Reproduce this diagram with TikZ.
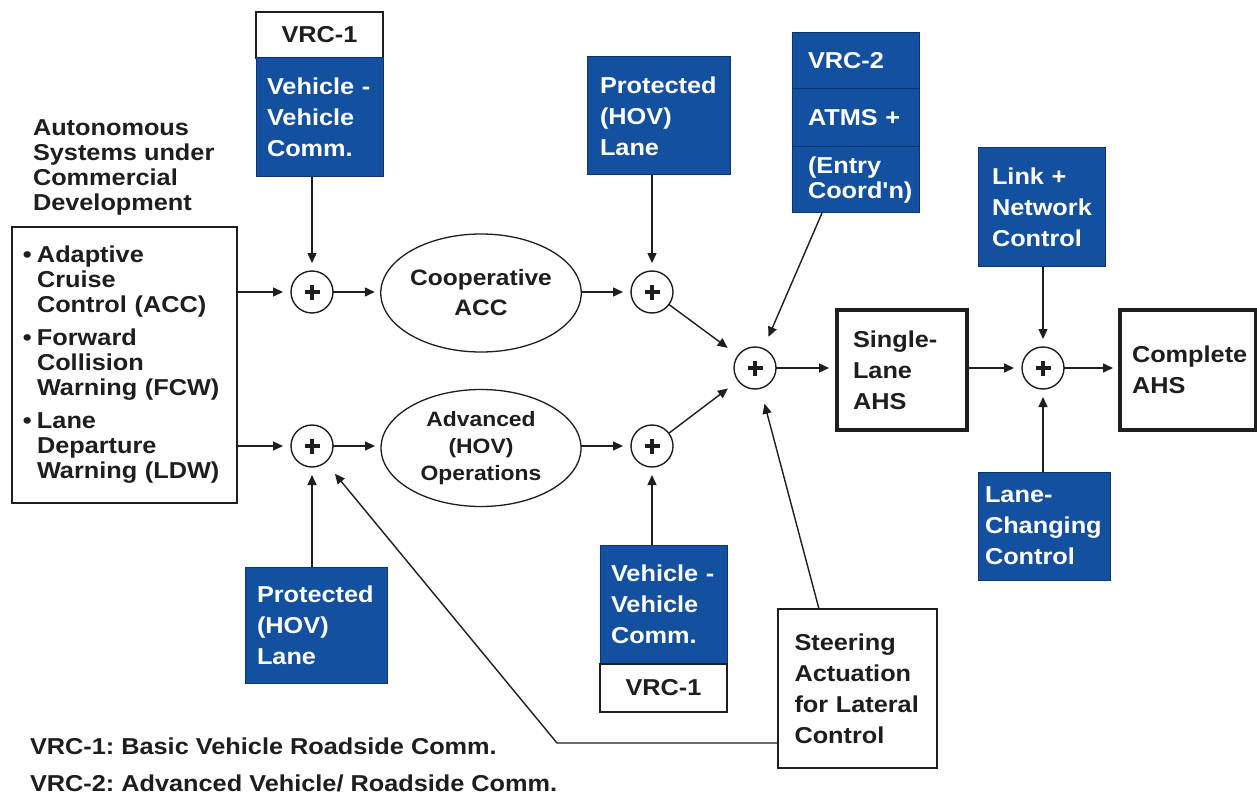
\documentclass[tikz,border=0pt]{standalone}
\usepackage{fontspec}
\newfontfamily\lb[FakeStretch=1.1]{Liberation Sans}
\usetikzlibrary{arrows.meta,shapes.geometric}
\definecolor{boxblue}{RGB}{20,80,160}
\definecolor{boxedge}{RGB}{14,52,112}
\definecolor{ink}{RGB}{30,30,30}
\frenchspacing
\hyphenpenalty=10000
\exhyphenpenalty=10000
\begin{document}
\begin{tikzpicture}[x=1pt,y=-1pt,
  every node/.style={inner sep=0pt, outer sep=0pt},
  tx/.style={font=\lb\bfseries\fontsize{23}{31}\selectfont, text=ink},
  txs/.style={font=\lb\bfseries\fontsize{23}{25}\selectfont},
  bbox/.style={rectangle, draw=boxedge, line width=1pt, fill=boxblue, text=white, align=left, font=\lb\bfseries\fontsize{23}{31}\selectfont},
  wbox/.style={rectangle, draw=ink, line width=1.3pt, fill=white, text=ink, align=left, font=\lb\bfseries\fontsize{23}{31}\selectfont},
  tbox/.style={wbox, line width=3.5pt},
  oval/.style={ellipse, draw=ink, line width=1.3pt, align=center, text=ink},
  sum/.style={circle, draw=ink, line width=1.4pt, minimum size=42pt,
    path picture={\draw[line width=3.2pt,ink]
      ([xshift=-7.5pt]path picture bounding box.center) -- ([xshift=7.5pt]path picture bounding box.center)
      ([yshift=-7.5pt]path picture bounding box.center) -- ([yshift=7.5pt]path picture bounding box.center);}},
  arr/.style={-{Triangle[length=10pt,width=9pt]}, line width=1.4pt, draw=ink, shorten >=8pt},
  darr/.style={arr, shorten >=13pt}
]
\useasboundingbox (0,0) rectangle (1257,794);
\fill[white] (0,0) rectangle (1257,794);

% left text and box
\node[tx, txs, text=ink, align=left, anchor=north west] (auto) at (33,120)
  {Autonomous\\Systems under\\Commercial\\Development};
\node[wbox, txs, minimum width=225pt, minimum height=276pt, text width=203pt, inner xsep=11pt] (lb) at (124.5,365)
  {\makebox[14pt][l]{•}Adaptive\\\hspace*{14pt}Cruise\\\hspace*{14pt}Control (ACC)\\[8pt]
   \makebox[14pt][l]{•}Forward\\\hspace*{14pt}Collision\\\hspace*{14pt}Warning (FCW)\\[8pt]
   \makebox[14pt][l]{•}Lane\\\hspace*{14pt}Departure\\\hspace*{14pt}Warning (LDW)};

% top VRC-1 / vehicle-vehicle
\node[wbox, align=center, minimum width=127pt, minimum height=46pt] (vrcA) at (319.5,35) {VRC-1};
\node[bbox, minimum width=127pt, minimum height=119pt, text width=105pt, inner xsep=11pt] (vvA) at (319.5,117.5) {Vehicle -\\Vehicle\\Comm.};

% top protected lane
\node[bbox, minimum width=143pt, minimum height=118pt, text width=117pt, inner xsep=13pt] (phA) at (658.5,116) {Protected\\(HOV)\\Lane};

% VRC-2 stack
\node[bbox, minimum width=127pt, minimum height=56pt, text width=95pt, inner xsep=16pt] (vrc2a) at (855.5,61) {VRC-2};
\node[bbox, minimum width=127pt, minimum height=58pt, text width=95pt, inner xsep=16pt] (vrc2b) at (855.5,118) {ATMS +};
\node[bbox, txs, minimum width=127pt, minimum height=66pt, text width=95pt, inner xsep=16pt] (vrc2c) at (855.5,180) {(Entry\\Coord'n)};

% right side
\node[bbox, minimum width=127pt, minimum height=118pt, text width=99pt, inner xsep=14pt] (link) at (1041.5,207) {Link +\\Network\\Control};
\node[bbox, minimum width=132pt, minimum height=108pt, text width=118pt, inner xsep=7pt] (lanech) at (1044,526) {Lane-\\Changing\\Control};
\node[tbox, minimum width=130pt, minimum height=120pt, text width=98pt, inner xsep=16pt] (single) at (902,370) {Single-\\Lane\\AHS};
\node[tbox, minimum width=136pt, minimum height=120pt, text width=112pt, inner xsep=12pt] (complete) at (1188,370) {Complete\\AHS};

% ellipses
\node[oval, minimum width=200pt, minimum height=118pt, font=\lb\bfseries\fontsize{22.3}{30}\selectfont] (coop) at (481,293) {Cooperative\\ACC};
\node[oval, minimum width=200pt, minimum height=117pt, font=\lb\bfseries\fontsize{20.8}{27}\selectfont] (adv) at (481,448) {Advanced\\(HOV)\\Operations};

% summing junctions
\node[sum] (s1) at (312,292) {};
\node[sum] (s2) at (652,292) {};
\node[sum] (s3) at (312,446) {};
\node[sum] (s4) at (652,446) {};
\node[sum] (sc) at (755,368) {};
\node[sum] (sr) at (1043,368) {};

% bottom boxes
\node[bbox, minimum width=142pt, minimum height=116pt, text width=118pt, inner xsep=12pt] (phB) at (316,625) {Protected\\(HOV)\\Lane};
\node[bbox, minimum width=127pt, minimum height=119pt, text width=105pt, inner xsep=11pt] (vvB) at (663.5,604.5) {Vehicle -\\Vehicle\\Comm.};
\node[wbox, align=center, minimum width=127pt, minimum height=48pt] (vrcB) at (663.5,688) {VRC-1};
\node[wbox, minimum width=159pt, minimum height=159pt, text width=126pt, inner xsep=16.5pt] (steer) at (857.5,688.5) {Steering\\Actuation\\for Lateral\\Control};

% legend
\node[tx, anchor=base west] (leg1) at (30,754) {VRC-1: Basic Vehicle Roadside Comm.};
\node[tx, anchor=base west] (leg2) at (30,791) {VRC-2: Advanced Vehicle/ Roadside Comm.};

% connectors
\draw[arr] (lb.east |- s1) -- (s1);
\draw[arr] (lb.east |- s3) -- (s3);
\draw[arr] (vvA.south -| s1) -- (s1);
\draw[arr, shorten >=6pt] (s1) -- (s1 -| coop.west);
\draw[arr] (coop.east |- s2) -- (s2);
\draw[arr] (phA.south -| s2) -- (s2);
\draw[darr] (s2) -- (sc);
\draw[darr] (s4) -- (sc);
\draw[darr] ([xshift=-33.5pt]vrc2c.south) -- (sc);
\draw[arr] (sc) -- (sc -| single.west);
\draw[arr] (single.east |- sr) -- (sr);
\draw[arr, shorten >=7pt] (sr) -- (sr -| complete.west);
\draw[arr] (link.south -| sr) -- (sr);
\draw[arr] (lanech.north -| sr) -- (sr);
\draw[arr, shorten >=6pt] (s3) -- (s3 -| adv.west);
\draw[arr] (adv.east |- s4) -- (s4);
\draw[arr] (phB.north -| s3) -- (s3);
\draw[arr] (vvB.north -| s4) -- (s4);
\draw[darr, shorten >=16pt] ([xshift=-38.5pt]steer.north) -- (sc);
\coordinate (bend) at (557,743);
\draw[darr, shorten >=15pt] (steer.west |- bend) -- (bend) -- (s3);
\end{tikzpicture}
\end{document}
